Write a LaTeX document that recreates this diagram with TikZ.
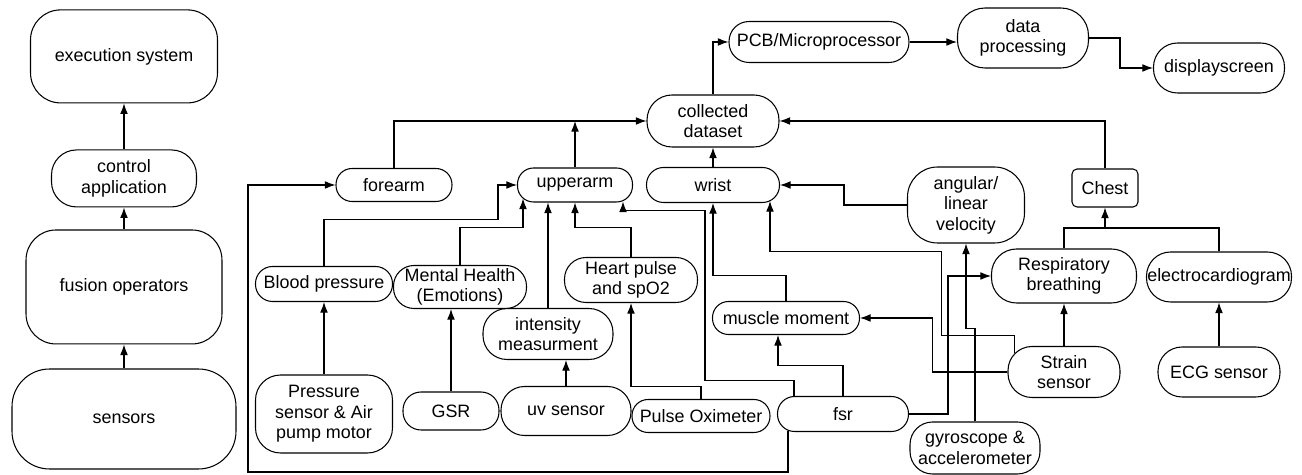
\documentclass[tikz,border=0pt]{standalone}
\usepackage{fontspec}
\setmainfont{Liberation Sans}
\usetikzlibrary{positioning,arrows.meta}
\newcommand{\labelfont}{\fontsize{10.2}{11.6}\selectfont}

\begin{document}
\begin{tikzpicture}[x=0.02cm, y=-0.02cm,
        blob/.style={draw, rectangle, inner sep=0pt, align=center, line width=0.6pt, font=\labelfont},
        sz/.style n args={3}{minimum width=#1cm, minimum height=#2cm, rounded corners=#3cm},
        arr/.style={-{Latex[length=6pt,width=4.4pt]}, line width=0.6pt},
        wire/.style={line width=0.6pt}]

        \useasboundingbox (0,0) rectangle (1302,475);

        % left column
        \node[blob, sz={4.48}{2.0}{0.75}] (sensors) at (124,419) {sensors};
        \node[blob, sz={3.92}{2.28}{0.6}] (fusion) [above=0.48cm of sensors] {fusion operators};
        \node[blob, sz={2.9}{1.14}{0.5}] (control) [above=0.44cm of fusion] {control\\application};
        \node[blob, sz={3.74}{1.86}{0.6}] (execution) [above=0.92cm of control] {execution system};

        \draw[arr] (sensors) -- (fusion);
        \draw[arr] (fusion) -- (control);
        \draw[arr] (control) -- (execution);

        % body locations
        \node[blob, sz={2.32}{0.66}{0.32}] (forearm) at (394,185) {forearm};
        \node[blob, sz={2.3}{0.68}{0.32}] (upperarm) at (575,185) {upperarm};
        \node[blob, sz={2.66}{0.7}{0.34}] (wrist) at (713,185) {wrist};
        \node[blob, sz={1.32}{0.76}{0.1}] (chest) at (1105,188) {Chest};

        % output chain
        \node[blob, sz={2.64}{1.04}{0.5}] (dataset) at (713,121) {collected\\dataset};
        \node[blob, sz={3.6}{0.82}{0.4}] (pcb) at (819,42) {PCB/Microprocessor};
        \node[blob, sz={2.62}{1.2}{0.55}] (processing) at (1023,38) {data\\processing};
        \node[blob, sz={2.62}{1.0}{0.48}] (screen) at (1219,68) {displayscreen};

        % measured quantities
        \node[blob, sz={2.74}{0.7}{0.34}] (blood) at (324,284) {Blood pressure};
        \node[blob, sz={2.66}{0.86}{0.41}] (mental) at (460,287) {Mental Health\\(Emotions)};
        \node[blob, sz={2.6}{1.02}{0.48}] (intensity) at (548,334) {intensity\\measurment};
        \node[blob, sz={2.66}{0.9}{0.43}] (heart) at (631,280) {Heart pulse\\and spO2};
        \node[blob, sz={2.94}{0.66}{0.32}] (muscle) at (786,318) {muscle moment};
        \node[blob, sz={2.34}{1.52}{0.6}] (velocity) at (966,205) {angular/\\linear\\velocity};
        \node[blob, sz={2.9}{1.08}{0.5}] (breathing) at (1064,276) {Respiratory\\breathing};
        \node[blob, sz={2.9}{1.0}{0.48}] (cardio) at (1219,277) {electrocardiogram};

        % sensor devices
        \node[blob, sz={2.74}{1.56}{0.5}] (pressure) at (324,414) {Pressure\\sensor \& Air\\pump motor};
        \node[blob, sz={1.92}{0.76}{0.36}] (gsr) at (451,411) {GSR};
        \node[blob, sz={2.6}{0.98}{0.47}] (uv) at (566,411) {uv sensor};
        \node[blob, sz={2.76}{0.66}{0.32}] (oximeter) at (701,416) {Pulse Oximeter};
        \node[blob, sz={2.62}{0.7}{0.34}] (fsr) at (843,414) {fsr};
        \node[blob, sz={2.6}{1.04}{0.45}] (gyro) at (975,448) {gyroscope \&\\accelerometer};
        \node[blob, sz={2.24}{1.02}{0.48}] (strain) at (1064,372) {Strain\\sensor};
        \node[blob, sz={2.44}{1.0}{0.48}] (ecg) at (1219,372) {ECG sensor};

        % into the dataset and out
        \draw[arr] (forearm.north) |- (dataset.west);
        \draw[arr] (upperarm.north) -- (upperarm.north |- dataset.west);
        \draw[arr] (wrist) -- (dataset);
        \draw[arr] (dataset.north) |- (pcb.west);
        \draw[arr] (pcb.east) -- (pcb.east -| processing.west);
        \draw[arr] (processing.east) -- ++(31,0) |- (screen.west);
        \draw[arr] (chest.north) |- (dataset.east);

        % chest branch
        \coordinate (chestjoin) at (1105,228);
        \draw[wire] (breathing.north) |- (chestjoin) -| (cardio.north);
        \draw[arr] (chestjoin) -- (chest.south);
        \draw[arr] (strain) -- (breathing);
        \draw[arr] (ecg) -- (cardio);

        % wrist branch
        \draw[arr] (velocity.west) -- ++(-63,0) |- (wrist.east);
        \draw[arr] (gyro.north) -- ++(0,-93) -| (velocity.south);
        \draw[arr] (fsr.east) -- ++(39,0) |- (breathing.west);
        \draw[arr] (fsr.north) -- ++(0,-30) -| ([shift={(-8,0)}]muscle.south);
        \draw[arr] (muscle.north) -- ++(0,-25) -| (wrist.south);
        \draw[arr] (strain.west) -- ++(-75,0) |- (muscle.east);
        \draw[arr] ([shift={(7,7)}]strain.north west) -- ++(0,-17) -- ++(-73,0) -- ++(0,-84) -| ([shift={(57,-2)}]wrist.south);
        \draw[arr] ([shift={(-49,0)}]fsr.north) -- ++(0,-15) -- ++(-89,0) -- ++(0,-170) -| ([shift={(48,-1)}]upperarm.south);
        \draw[arr] ([shift={(-55,-1)}]fsr.south) -- ++(0,41) -- ++(-540,0) |- (forearm.west);

        % upperarm branch
        \draw[arr] (pressure) -- (blood);
        \draw[arr] (blood.north) -- ++(0,-46) -- ++(174,0) |- (upperarm.west);
        \draw[arr] (gsr.north) -- (gsr.north |- mental.south);
        \draw[arr] (mental.north) -- ++(0,-37) -| ([shift={(-52,-4)}]upperarm.south);
        \draw[arr] (uv.north) -- (uv.north |- intensity.south);
        \draw[arr] (intensity.north) -- (intensity.north |- upperarm.south);
        \draw[arr] (oximeter.north) -- ++(0,-12) -| (heart.south);
        \draw[arr] (heart.north) -- ++(0,-29) -| (upperarm.south);

\end{tikzpicture}
\end{document}
